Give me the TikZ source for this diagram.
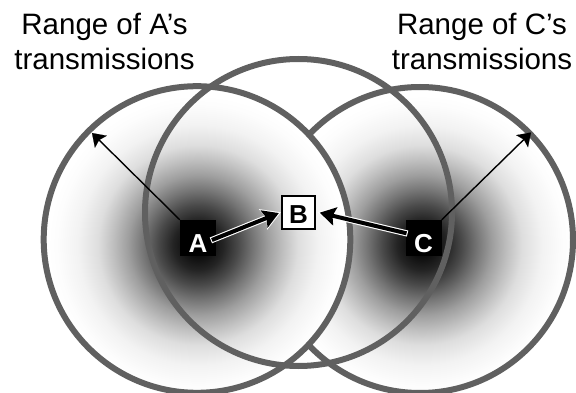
\documentclass[tikz,border=0pt]{standalone}
\usepackage{fontspec}
\setmainfont{Liberation Sans}
\usetikzlibrary{arrows.meta,calc}
\definecolor{ringgray}{HTML}{606060}
\pgfdeclareradialshading{glow}{\pgfpointorigin}{color(0bp)=(black); color(1.67bp)=(black!96); color(4.17bp)=(black!86); color(6.67bp)=(black!71); color(9.17bp)=(black!54); color(11.67bp)=(black!38); color(14.17bp)=(black!25); color(16.67bp)=(black!13); color(20bp)=(black!5); color(23.33bp)=(black!1); color(25bp)=(white); color(50bp)=(white)}
\tikzset{
  ring/.style={draw=ringgray, line width=6pt},
  station/.style={fill=black, text=white, font=\fontsize{26}{26}\selectfont\bfseries,
    minimum width=36pt, minimum height=36pt, inner sep=0pt, text height=32pt, text depth=4pt},
  target/.style={draw=black, line width=2pt, fill=white, text=black, font=\fontsize{26}{26}\selectfont\bfseries,
    minimum width=33pt, minimum height=33pt, inner sep=0pt, text height=27.3pt, text depth=5.7pt},
  rangelabel/.style={font=\fontsize{29.5}{35}\selectfont, anchor=base, inner sep=0pt},
  reach/.style={draw=black, line width=1.4pt,
    -{Stealth[length=12.5pt,width=17pt,inset=2.5pt,line width=0.1pt]}}
}
% arrow-shaped polygon: #1 start, #2 end, #3 shaft half width, #4 notch distance,
% #5 barb distance, #6 barb half width, #7 fill colour
\newcommand{\arrowpoly}[7]{%
  \fill[#7]
    ($(#1)!#3!90:(#2)$) -- ($($(#2)!#4!(#1)$)!#3!90:(#2)$) -- ($($(#2)!#5!(#1)$)!#6!90:(#2)$)
    -- (#2) -- ($($(#2)!#5!(#1)$)!#6!-90:(#2)$) -- ($($(#2)!#4!(#1)$)!#3!-90:(#2)$)
    -- ($(#1)!#3!-90:(#2)$) -- cycle;}
% thick transmission arrow from #1 to #2: white halo, then black body
\newcommand{\sendfrom}[2]{%
  \coordinate (#1-s) at ($(#1)!-1.1pt!(#2)$);
  \coordinate (#1-e) at ($(#2)!-2.2pt!(#1)$);
  \arrowpoly{#1-s}{#1-e}{3.1pt}{16.3pt}{19.3pt}{11.2pt}{white}
  \arrowpoly{#1}{#2}{2pt}{13.7pt}{16pt}{9.5pt}{black}}
\begin{document}
\begin{tikzpicture}[x=1pt,y=-1pt]
\useasboundingbox (0,0) rectangle (576,393);
\clip (0,0) rectangle (576,393);
\fill[white] (0,0) rectangle (576,393);
% circle centres and gradient centres
\coordinate (cL) at (197,239.5);
\coordinate (cM) at (298.5,212.5);
\coordinate (cR) at (420,240);
\coordinate (gL) at (198,245);
\coordinate (gR) at (422,245);
% right range
\fill[white] (cR) circle (153pt);
\begin{scope}
  \clip (cR) circle (153pt);
  \shade[shading=glow] (gR) circle (150pt);
\end{scope}
\draw[ring] (cR) circle (153pt);
% left range
\fill[white] (cL) circle (153.3pt);
\begin{scope}
  \clip (cL) circle (153.3pt);
  \shade[shading=glow] (gL) circle (150pt);
\end{scope}
\draw[ring] (cL) circle (153.3pt);
% middle range
\draw[ring] (cM) circle (153.5pt);
% stations
\node[station] (A) at (198,238) {A};
\node[station] (C) at (423.5,238) {C};
\node[target] (B) at (298.5,212.5) {B};
% range arrows
\coordinate (tipA) at (92,133);
\coordinate (tipC) at (531,132.5);
\draw[reach] (A.north west) -- (tipA);
\draw[reach] (C.north east) -- (tipC);
% transmissions
\coordinate (sA) at ($(A.east)+(-4.3,2)$);
\coordinate (eA) at ($(B.west)+(-2.2,0.6)$);
\coordinate (sC) at ($(C.west)+(1.2,-4.7)$);
\coordinate (eC) at ($(B.east)+(3.8,0.2)$);
\sendfrom{sA}{eA}
\sendfrom{sC}{eC}
% labels
\node[rangelabel] (LA1) at (104.5,35) {Range of A’s};
\node[rangelabel] (LA2) at (104.5,70) {transmissions};
\node[rangelabel] (LC1) at (482,35) {Range of C’s};
\node[rangelabel] (LC2) at (482,70) {transmissions};
\end{tikzpicture}
\end{document}
